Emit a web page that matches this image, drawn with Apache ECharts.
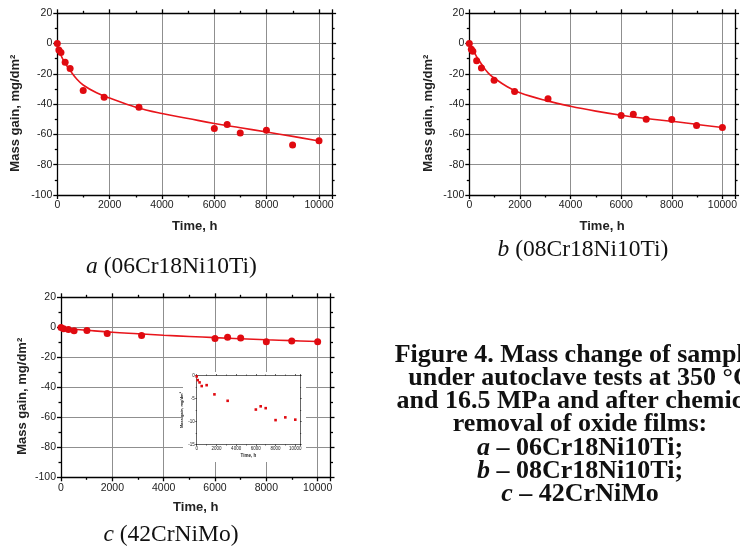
<!DOCTYPE html>
<html>
<head>
<meta charset="utf-8">
<script src="https://cdn.jsdelivr.net/npm/echarts@6/dist/echarts.min.js"></script>
<style>html,body{margin:0;padding:0;background:#fff}#c{width:740px;height:547px}</style>
</head>
<body>
<div id="c"></div>
<script>
// ---- data ----
var timesA = [0, 60, 140, 300, 490, 990, 1790, 3120, 6000, 6490, 6990, 7990, 8990, 10000];
var massA  = [0, -4.2, -5.9, -12.3, -16.5, -31, -35.5, -42, -56.1, -53.5, -59, -57.3, -66.9, -64.2];
var fitTimesA = [0, 50, 100, 200, 300, 500, 750, 1000, 1500, 2000, 3000, 4000, 5000, 6000, 7000, 8000, 9000, 10000];
var fitA      = [0, -3.5, -6, -10, -13, -18, -23.5, -27.5, -32.5, -36, -42, -46.2, -49.5, -52.8, -55.6, -58.4, -61.3, -64.3];

var timesB = [0, 80, 140, 290, 480, 980, 1790, 3110, 6000, 6480, 6990, 8000, 8980, 10000];
var massB  = [0, -3.8, -5, -11.3, -16.1, -24.2, -31.7, -36.4, -47.5, -46.6, -49.9, -50.1, -54.1, -55.4];
var fitTimesB = [0, 100, 200, 300, 500, 750, 1000, 1500, 2000, 3000, 4000, 5000, 6000, 7000, 8000, 9000, 10000];
var fitB      = [0, -2.8, -5.8, -9, -14, -19.5, -23, -28.5, -32.5, -37.5, -41.4, -44.6, -47.3, -49.5, -51.3, -53.4, -55.4];

var timesC = [0, 100, 290, 510, 1010, 1800, 3140, 6000, 6490, 7000, 8000, 8990, 10000];
var massC  = [-0.2, -1.0, -1.5, -2.3, -2.1, -4.1, -5.5, -7.4, -6.7, -7.1, -9.7, -9.1, -9.6];
var fitTimesC = [0, 500, 1000, 2000, 3000, 4000, 5000, 6000, 7000, 8000, 9000, 10000];
var fitC      = [-0.5, -1.3, -2, -3.3, -4.3, -5.3, -6.1, -6.9, -7.6, -8.3, -8.9, -9.5];

var xTicks = [0, 2000, 4000, 6000, 8000, 10000];
var yTicksMain = [-100, -80, -60, -40, -20, 0, 20];
var yTicksInset = [-15, -10, -5, 0];

var subtitles = [['a', ' (06Cr18Ni10Ti)'], ['b', ' (08Cr18Ni10Ti)'], ['c', ' (42CrNiMo)']];
var captionLines = [
  ['', 'Figure 4. Mass change of samples'],
  ['', 'under autoclave tests at 350 \u00b0C'],
  ['', 'and 16.5 MPa and after chemical'],
  ['', 'removal of oxide films:'],
  ['a', ' \u2013 06Cr18Ni10Ti;'],
  ['b', ' \u2013 08Cr18Ni10Ti;'],
  ['c', ' \u2013 42CrNiMo']
];

// ---- helpers ----
function zip(a, b) { return a.map(function (v, i) { return [v, b[i]]; }); }
var SANS = 'Liberation Sans';
var SERIF = 'Liberation Serif';
var RED = '#e8151b';

var grids = [
  { left: 57.3, top: 13.3, width: 274.8, height: 181.7 },
  { left: 469.3, top: 13.3, width: 272, height: 181.7 },
  { left: 61, top: 297.3, width: 269.5, height: 180 },
  { left: 196.7, top: 375.5, width: 103.5, height: 69 }
];

var xAxes = [], yAxes = [];
function addPanel(gi, cfg) {
  var inset = !!cfg.inset;
  var z = inset ? 3 : 0;
  var lw = inset ? 0.6 : 1.3;
  var tickLen = inset ? 1.5 : 4;
  var minorLen = inset ? 1 : 2.5;
  var common = {
    gridIndex: gi, type: 'value', min: 0, max: 10500, interval: 2000, z: z,
    axisLine: { show: true, onZero: false, lineStyle: { color: '#000', width: lw } },
    axisTick: { show: true, length: tickLen, lineStyle: { color: '#000', width: lw } },
    minorTick: { show: true, splitNumber: 2, length: minorLen, lineStyle: { color: '#000', width: lw } }
  };
  xAxes.push(Object.assign({}, common, {
    position: 'bottom',
    splitLine: { show: !inset, lineStyle: { color: '#8f8f8f', width: 1 } },
    minorSplitLine: { show: false },
    axisLabel: {
      show: true, fontSize: inset ? 4.5 : 10.5, color: '#222', fontFamily: SANS,
      margin: inset ? 2 : 5, showMaxLabel: false,
      formatter: function (v) { return xTicks.indexOf(v) >= 0 ? String(v) : ''; }
    },
    name: 'Time, h', nameLocation: 'middle', nameGap: inset ? 9 : cfg.xNameGap,
    nameTextStyle: { fontWeight: 'bold', fontSize: inset ? 4.5 : 13, color: '#222', fontFamily: SANS }
  }));
  xAxes.push(Object.assign({}, common, {
    position: 'top', splitLine: { show: false }, axisLabel: { show: false }
  }));
  var ymin = inset ? -15 : -100, ymax = inset ? 0 : 20, yint = inset ? 5 : 20;
  var ycommon = Object.assign({}, common, { min: ymin, max: ymax, interval: yint });
  var yTicks = inset ? yTicksInset : yTicksMain;
  yAxes.push(Object.assign({}, ycommon, {
    position: 'left',
    splitLine: { show: !inset, lineStyle: { color: '#8f8f8f', width: 1 } },
    axisLabel: {
      show: true, fontSize: inset ? 4.5 : 10.5, color: '#222', fontFamily: SANS, margin: inset ? 2 : 5,
      formatter: function (v) { return yTicks.indexOf(v) >= 0 ? String(v) : ''; }
    },
    name: 'Mass gain, mg/dm\u00b2', nameLocation: 'middle', nameRotate: 90,
    nameGap: inset ? 7 : cfg.yNameGap,
    nameTextStyle: { fontWeight: 'bold', fontSize: inset ? 4 : 13, color: '#222', fontFamily: SANS,
      padding: inset ? 0 : [0, 18, 0, 0] }
  }));
  yAxes.push(Object.assign({}, ycommon, {
    position: 'right', splitLine: { show: false }, axisLabel: { show: false }
  }));
}
addPanel(0, { xNameGap: 25, yNameGap: 35 });
addPanel(1, { xNameGap: 25, yNameGap: 34 });
addPanel(2, { xNameGap: 24, yNameGap: 32 });
addPanel(3, { inset: true });

function lineSeries(xi, yi, xs, ys) {
  return {
    type: 'line', xAxisIndex: xi, yAxisIndex: yi, data: zip(xs, ys), smooth: 0.4,
    showSymbol: false, symbol: 'none', z: 2,
    lineStyle: { color: RED, width: 1.6 }, silent: true, animation: false
  };
}
function scatterSeries(xi, yi, xs, ys, size, sym, z) {
  return {
    type: 'scatter', xAxisIndex: xi, yAxisIndex: yi, data: zip(xs, ys),
    symbol: sym || 'circle', symbolSize: size, z: z || 3,
    itemStyle: { color: '#e00a10', opacity: 1 }, animation: false
  };
}

var series = [
  lineSeries(0, 0, fitTimesA, fitA), scatterSeries(0, 0, timesA, massA, 7),
  lineSeries(2, 2, fitTimesB, fitB), scatterSeries(2, 2, timesB, massB, 7),
  lineSeries(4, 4, fitTimesC, fitC), scatterSeries(4, 4, timesC, massC, 7),
  scatterSeries(6, 6, timesC, massC, 2.6, 'rect', 5)
];

var graphics = [
  { type: 'rect', z: 1, shape: { x: 183, y: 372, width: 123, height: 90 }, style: { fill: '#fff' } }
];
var subPos = [[171.5, 266.5], [583, 250], [171, 535]];
subtitles.forEach(function (s, i) {
  graphics.push({
    type: 'text', x: subPos[i][0], y: subPos[i][1], z: 10,
    style: {
      text: '{i|' + s[0] + '}' + s[1], textAlign: 'center', textVerticalAlign: 'middle',
      fontFamily: SERIF, fontSize: 23.5, fill: '#111',
      rich: { i: { fontFamily: SERIF, fontSize: 23.5, fontStyle: 'italic', fill: '#111' } }
    }
  });
});
var capY = [355, 378, 401.5, 424.5, 448, 471.5, 494];
captionLines.forEach(function (l, i) {
  graphics.push({
    type: 'text', x: 580, y: capY[i], z: 10,
    style: {
      text: (l[0] ? '{i|' + l[0] + '}' : '') + l[1], textAlign: 'center', textVerticalAlign: 'middle',
      fontFamily: SERIF, fontSize: 26, fontWeight: 'bold', fill: '#111',
      rich: { i: { fontFamily: SERIF, fontSize: 26, fontWeight: 'bold', fontStyle: 'italic', fill: '#111' } }
    }
  });
});

var chart = echarts.init(document.getElementById('c'), null, { renderer: 'canvas' });
chart.setOption({
  backgroundColor: '#fff',
  animation: false,
  grid: grids.map(function (g) { return Object.assign({ containLabel: false, show: false }, g); }),
  xAxis: xAxes,
  yAxis: yAxes,
  series: series,
  graphic: { elements: graphics }
});
</script>
</body>
</html>
